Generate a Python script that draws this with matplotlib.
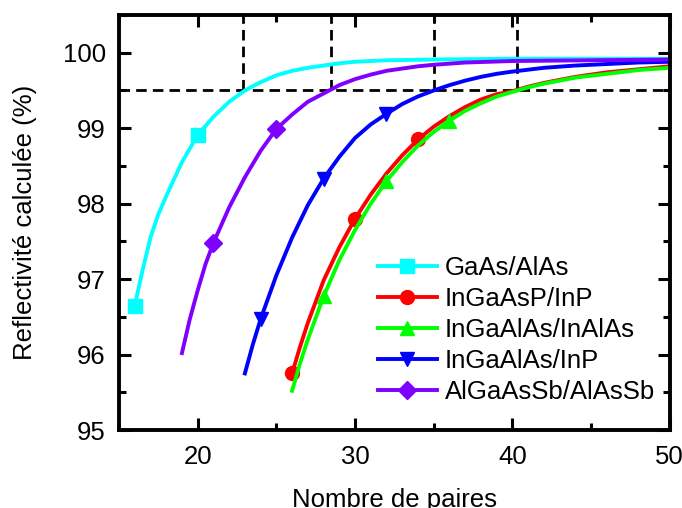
import matplotlib
matplotlib.use('Agg')
import matplotlib.pyplot as plt
from matplotlib.ticker import MultipleLocator

# values (number of pairs -> reflectivity %)
n_gaas = [16, 16.5, 17, 17.5, 18, 19, 20, 21, 22, 23, 24, 25, 26, 27, 28, 29, 30, 32, 35, 40, 45, 50]
r_gaas = [96.65, 97.12, 97.55, 97.86, 98.10, 98.55, 98.91, 99.15, 99.35, 99.50, 99.61, 99.70,
          99.76, 99.80, 99.83, 99.86, 99.88, 99.90, 99.91, 99.92, 99.92, 99.92]

n_ingaasp = [26, 26.5, 27, 28, 29, 30, 31, 32, 33, 34, 35, 36, 37, 38, 39, 40, 41, 42, 44, 46, 48, 50]
r_ingaasp = [95.75, 96.10, 96.42, 96.98, 97.42, 97.80, 98.12, 98.40, 98.64, 98.85, 99.02, 99.16,
             99.28, 99.38, 99.45, 99.49, 99.55, 99.60, 99.68, 99.74, 99.78, 99.82]

n_inalas = [26, 26.5, 27, 28, 29, 30, 31, 32, 33, 34, 35, 36, 37, 38, 39, 40, 41, 42, 44, 46, 48, 50]
r_inalas = [95.52, 95.88, 96.20, 96.77, 97.25, 97.65, 98.00, 98.30, 98.55, 98.77, 98.95, 99.10,
            99.23, 99.33, 99.42, 99.48, 99.54, 99.59, 99.67, 99.72, 99.77, 99.80]

n_inp = [23, 23.5, 24, 25, 26, 27, 28, 29, 30, 31, 32, 33, 34, 35, 36, 37, 38, 39, 40, 42, 44, 46, 48, 50]
r_inp = [95.75, 96.13, 96.47, 97.05, 97.55, 97.98, 98.33, 98.62, 98.87, 99.05, 99.19, 99.32,
         99.42, 99.50, 99.57, 99.63, 99.68, 99.72, 99.75, 99.80, 99.83, 99.85, 99.87, 99.88]

n_sb = [19, 19.5, 20, 20.5, 21, 22, 23, 24, 25, 26, 27, 28, 29, 30, 31, 32, 33, 34, 35, 37, 40, 45, 50]
r_sb = [96.02, 96.47, 96.85, 97.20, 97.48, 97.95, 98.35, 98.70, 98.99, 99.18, 99.35, 99.46,
        99.57, 99.65, 99.71, 99.76, 99.79, 99.82, 99.84, 99.87, 99.89, 99.90, 99.91]

labels = ['GaAs/AlAs', 'InGaAsP/InP', 'InGaAlAs/InAlAs', 'InGaAlAs/InP', 'AlGaAsSb/AlAsSb']
marks = [[16, 20], [26, 30, 34], [28, 32, 36], [24, 28, 32], [21, 25]]
colors = ['#00ffff', '#ff0000', '#00ff00', '#0000ff', '#7f00ff']
markers = ['s', 'o', '^', 'v', 'D']

level = 99.5
crossings = [22.9, 28.45, 35.0, 40.3]

plt.rcParams['font.family'] = ['Liberation Sans', 'DejaVu Sans']
plt.rcParams['font.size'] = 18.5

fig = plt.figure(figsize=(6.82, 5.08), dpi=100)
ax = fig.add_axes([0.1745, 0.1535, 0.8075, 0.817])

series = [(n_gaas, r_gaas), (n_ingaasp, r_ingaasp), (n_inalas, r_inalas),
          (n_inp, r_inp), (n_sb, r_sb)]
for (n, r), lab, c, m, mk in zip(series, labels, colors, markers, marks):
    idx = [n.index(v) for v in mk]
    ms = 9 if m == 'D' else 10
    ax.plot(n, r, color=c, lw=2.8, marker=m, ms=ms, markevery=idx, label=lab)

dash = (0, (3.8, 2.2))
ax.axhline(level, color='black', lw=2, ls=dash, zorder=1)
for xc in crossings:
    ax.plot([xc, xc], [level, 100.5], color='black', lw=2, ls=dash, zorder=1)

ax.set_xlim(15, 50)
ax.set_ylim(95, 100.5)
ax.xaxis.set_major_locator(MultipleLocator(10))
ax.xaxis.set_minor_locator(MultipleLocator(5))
ax.yaxis.set_major_locator(MultipleLocator(1))
ax.yaxis.set_minor_locator(MultipleLocator(0.5))
ax.tick_params(which='both', direction='in', top=True, right=True, width=2.2)
ax.tick_params(which='major', length=8.5)
ax.tick_params(which='minor', length=5)
ax.tick_params(axis='x', which='major', pad=10.5)
ax.tick_params(axis='y', which='major', pad=9.5)
for s in ax.spines.values():
    s.set_linewidth(2.8)

ax.set_xlabel('Nombre de paires', labelpad=14)
ax.set_ylabel('Reflectivité calculée (%)', labelpad=18.5)

ax.legend(loc='upper left', bbox_to_anchor=(0.47, 0.42), frameon=False,
          borderpad=0, borderaxespad=0, handlelength=2.3, handletextpad=0.3,
          labelspacing=0.28)

fig.savefig('out.png', dpi=100)
